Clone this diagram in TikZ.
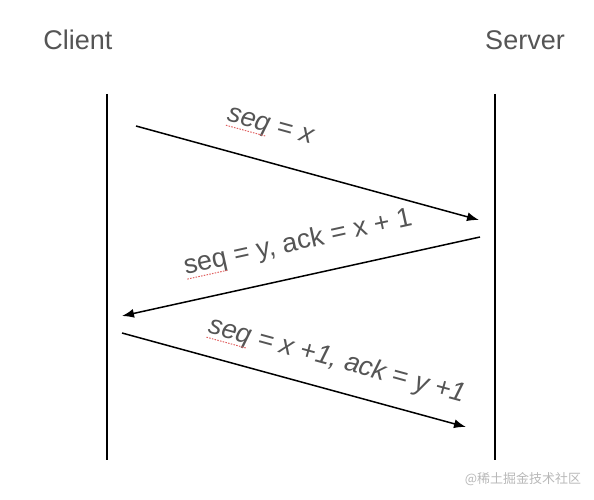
\documentclass[tikz,border=0pt]{standalone}
\usepackage{fontspec}
\setmainfont{Liberation Sans}
\newfontfamily\cjkfont{Noto Sans CJK SC}
\usetikzlibrary{arrows.meta}

\definecolor{labelgray}{HTML}{555555}
\definecolor{markgray}{HTML}{B8B8B8}
\definecolor{spellred}{HTML}{E06060}

\newlength\spellw
\newcommand\spellmark[1]{\settowidth\spellw{#1}\rlap{#1}\raisebox{-5pt}{\color{spellred}\hbox to \spellw{\leaders\hbox to 2.8pt{\hss\rule{1.5pt}{1pt}\hss}\hfill}}}

\begin{document}
\begin{tikzpicture}[
		x=1pt, y=-1pt,
		party/.style={text=labelgray, font=\fontsize{27}{30}\selectfont, inner sep=0pt},
		lifeline/.style={line width=1.6pt},
		msg/.style={-{Latex[length=12pt, width=9pt]}, line width=1.5pt},
		msglabel/.style={text=labelgray, font=\fontsize{27}{30}\selectfont, inner sep=0pt}
		]
		\useasboundingbox (0,0) rectangle (594,500);
		
		%==================== Nodes ====================%
		\node[party] (client) at (78,40) {Client};
		\node[party] (server) at (525,40) {Server};
		
		\coordinate (clienttop) at (107,94);
		\coordinate (clientbot) at (107,460);
		\coordinate (servertop) at (495,94);
		\coordinate (serverbot) at (495,460);
		
		\coordinate (synfrom) at (136,126);
		\coordinate (synto) at (479,220);
		\coordinate (synackfrom) at (480,237);
		\coordinate (synackto) at (122,316);
		\coordinate (ackfrom) at (122,333);
		\coordinate (ackto) at (466,427);
		
		\node[msglabel, rotate=-15.3] (synlabel) at (270,128) {\itshape\spellmark{seq} = x};
		\node[msglabel, rotate=12.4] (synacklabel) at (298,243) {\spellmark{seq} = y, ack = x + 1};
		\node[msglabel, rotate=-15.3] (acklabel) at (337,361) {\itshape\spellmark{seq} = x +1, ack = y +1};
		
		\node[text=markgray, font=\cjkfont\fontsize{13}{15}\selectfont, inner sep=0pt] (mark) at (523,479) {@稀土掘金技术社区};
		
		%==================== Arrows ====================%
		\draw[lifeline] (clienttop) -- (clientbot);
		\draw[lifeline] (servertop) -- (serverbot);
		
		\draw[msg] (synfrom) -- (synto);
		\draw[msg] (synackfrom) -- (synackto);
		\draw[msg] (ackfrom) -- (ackto);
		
	\end{tikzpicture}
\end{document}
